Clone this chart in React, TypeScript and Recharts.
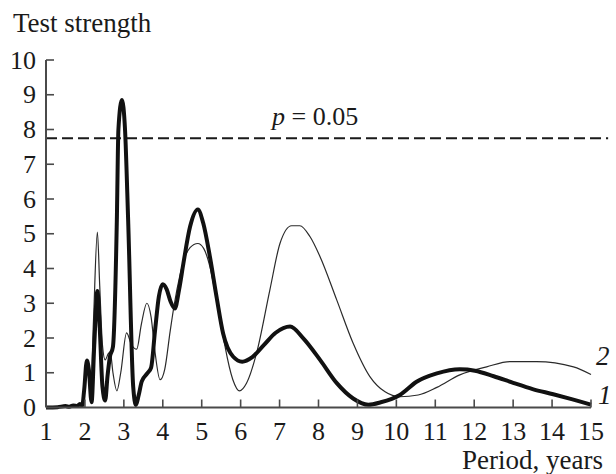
import React from 'react';
import { LineChart, Line, XAxis, YAxis, ReferenceLine, LabelList, Customized } from 'recharts';

// Series 1 (thick curve)
const periods1 = [1.0, 1.3, 1.5, 1.6, 1.7, 1.8, 1.87, 1.93, 1.98, 2.05, 2.1, 2.17, 2.24, 2.32, 2.38, 2.45, 2.52, 2.58, 2.64, 2.72, 2.82, 2.86, 2.95, 3.03, 3.11, 3.24, 3.31, 3.38, 3.46, 3.6, 3.7, 3.8, 3.9, 4.0, 4.1, 4.2, 4.31, 4.42, 4.53, 4.7, 4.9, 5.04, 5.21, 5.38, 5.55, 5.81, 6.04, 6.3, 6.6, 6.9, 7.27, 7.61, 8.04, 8.47, 8.89, 9.28, 9.6, 10.09, 10.52, 11.04, 11.63, 12.02, 12.5, 13.0, 13.5, 14.03, 14.5, 15.0];
const strength1 = [0.0, 0.01, 0.04, 0.02, 0.06, 0.04, 0.1, 0.05, 0.5, 1.35, 1.1, 0.15, 1.8, 3.35, 2.3, 0.6, 0.2, 0.9, 1.45, 1.75, 5.4, 8.0, 8.85, 8.0, 5.4, 0.6, 0.07, 0.35, 0.75, 0.98, 1.15, 2.2, 3.2, 3.55, 3.4, 3.05, 2.85, 3.4, 4.15, 5.2, 5.7, 5.3, 4.34, 3.19, 2.13, 1.46, 1.32, 1.45, 1.8, 2.15, 2.33, 1.99, 1.37, 0.7, 0.26, 0.08, 0.15, 0.36, 0.74, 0.98, 1.1, 1.06, 0.9, 0.71, 0.53, 0.38, 0.24, 0.08];

// Series 2 (thin curve)
const periods2 = [1.0, 1.3, 1.5, 1.7, 1.85, 1.95, 2.02, 2.08, 2.15, 2.22, 2.32, 2.38, 2.45, 2.52, 2.6, 2.65, 2.72, 2.82, 2.92, 3.07, 3.2, 3.33, 3.45, 3.59, 3.7, 3.8, 3.93, 4.05, 4.19, 4.3, 4.44, 4.53, 4.7, 4.9, 5.05, 5.2, 5.38, 5.5, 5.6, 5.8, 5.97, 6.15, 6.41, 6.75, 7.01, 7.31, 7.52, 7.78, 8.04, 8.47, 8.89, 9.32, 9.71, 10.09, 10.56, 11.04, 11.63, 12.32, 12.92, 13.6, 14.55, 15.0];
const strength2 = [0.0, 0.01, 0.03, 0.05, 0.08, 0.2, 0.9, 1.0, 0.6, 2.5, 5.05, 3.5, 1.8, 1.37, 1.55, 1.6, 1.0, 0.48, 1.0, 2.15, 1.8, 1.68, 2.4, 3.0, 2.6, 1.6, 0.8, 1.1, 2.2, 3.0, 3.8, 4.2, 4.6, 4.72, 4.58, 4.1, 3.1, 2.4, 1.75, 0.8, 0.48, 0.7, 1.57, 3.38, 4.72, 5.23, 5.23, 4.92, 4.34, 3.09, 1.85, 0.89, 0.45, 0.31, 0.36, 0.58, 0.94, 1.17, 1.32, 1.32, 1.17, 0.95];

const xTicks = [1, 2, 3, 4, 5, 6, 7, 8, 9, 10, 11, 12, 13, 14, 15];
const yTicks = [0, 1, 2, 3, 4, 5, 6, 7, 8, 9, 10];
const threshold = 7.75;
const thresholdEnd = 15.44;
const yTitle = 'Test strength';
const xTitle = 'Period, years';
const seriesNames = ['1', '2'];

const series1 = periods1.map((p, i) => ({ period: p, value: strength1[i] }));
const series2 = periods2.map((p, i) => ({ period: p, value: strength2[i] }));

const FONT = "'Liberation Serif', 'Times New Roman', serif";
const AXIS = '#4a4a4a';
const TXT: React.CSSProperties = { fontFamily: FONT };

const XTick = (props: any) => {
  const { x, y, payload } = props;
  return (
    <g>
      {payload.value !== 1 && <line x1={x} x2={x} y1={y} y2={y - 8} stroke={AXIS} strokeWidth={1.6} />}
      <text x={x} y={y + 32} textAnchor="middle" fontSize={26} style={TXT} fill="#1a1a1a">
        {payload.value}
      </text>
    </g>
  );
};

const YTick = (props: any) => {
  const { x, y, payload } = props;
  return (
    <g>
      {payload.value !== 0 && <line x1={x} x2={x + 8} y1={y} y2={y} stroke={AXIS} strokeWidth={1.6} />}
      <text x={x - 10} y={y + 8.6} textAnchor="end" fontSize={26} style={TXT} fill="#1a1a1a">
        {payload.value}
      </text>
    </g>
  );
};

const makeEndLabel = (name: string, count: number, dx: number, dy: number) => (props: any) => {
  const { x, y, index } = props;
  if (index !== count - 1) return null;
  return (
    <text x={x + dx} y={y + dy} fontSize={27} fontStyle="italic" style={TXT} fill="#1a1a1a">
      {name}
    </text>
  );
};

const Titles = () => (
  <g>
    <text x={13} y={31.5} fontSize={27} style={TXT} fill="#1a1a1a">{yTitle}</text>
    <text x={603} y={469} textAnchor="end" fontSize={27} style={TXT} fill="#1a1a1a">{xTitle}</text>
  </g>
);

const ThresholdLabel = (props: any) => {
  const { viewBox } = props;
  return (
    <text x={viewBox.x + 226} y={viewBox.y - 13} fontSize={26} style={TXT} fill="#1a1a1a">
      <tspan fontStyle="italic">p</tspan>
      <tspan> = 0.05</tspan>
    </text>
  );
};

export default function App() {
  return (
    <div style={{ position: 'absolute', left: 0, top: 0, width: 616, height: 474, background: '#fff' }}>
      <LineChart width={616} height={474} margin={{ top: 60, right: 25, bottom: 0, left: 0 }}>
        <XAxis
          dataKey="period"
          type="number"
          domain={[1, 15]}
          ticks={xTicks}
          interval={0}
          tickSize={0}
          tickMargin={0}
          tick={<XTick />}
          height={66.5}
          axisLine={{ stroke: AXIS, strokeWidth: 2 }}
          tickLine={false}
        />
        <YAxis
          type="number"
          domain={[0, 10]}
          ticks={yTicks}
          interval={0}
          tickSize={0}
          tickMargin={0}
          tick={<YTick />}
          width={46}
          axisLine={{ stroke: AXIS, strokeWidth: 2 }}
          tickLine={false}
        />
        <ReferenceLine
          segment={[{ x: 1, y: threshold }, { x: thresholdEnd, y: threshold }]}
          ifOverflow="visible"
          stroke="#1a1a1a"
          strokeWidth={2}
          strokeDasharray="11 5"
          label={<ThresholdLabel />}
        />
        <Line
          data={series2}
          dataKey="value"
          type="monotone"
          stroke="#2a2a2a"
          strokeWidth={1.2}
          dot={false}
          isAnimationActive={false}
        >
          <LabelList dataKey="value" content={makeEndLabel(seriesNames[1], series2.length, 5, -9)} />
        </Line>
        <Line
          data={series1}
          dataKey="value"
          type="monotone"
          stroke="#111"
          strokeWidth={4}
          dot={false}
          isAnimationActive={false}
        >
          <LabelList dataKey="value" content={makeEndLabel(seriesNames[0], series1.length, 7, -1)} />
        </Line>
        <Customized component={Titles} />
      </LineChart>
    </div>
  );
}
